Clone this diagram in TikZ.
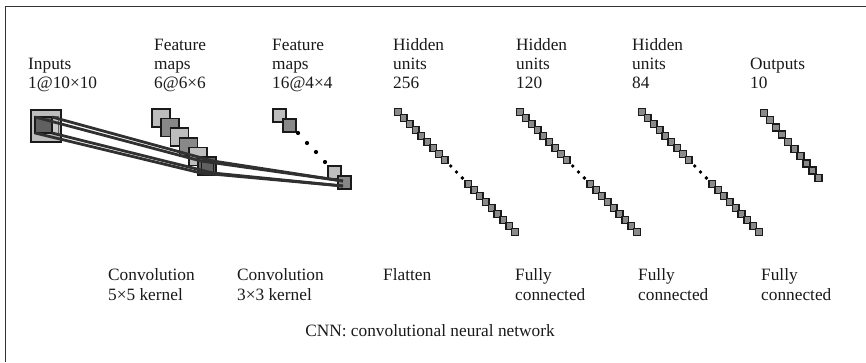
\documentclass[tikz,border=0pt]{standalone}
\usepackage{fontspec}
\setmainfont{Liberation Serif}
\definecolor{edge}{HTML}{1A1A1A}
\definecolor{lightsq}{HTML}{BDBDBD}
\definecolor{darksq}{HTML}{888888}
\definecolor{deepsq}{HTML}{606060}
\definecolor{band}{HTML}{303030}
\definecolor{hfill}{HTML}{8A8A8A}
\begin{document}
\begin{tikzpicture}[x=1pt,y=-1pt,
  lbl/.style={anchor=base west,inner sep=0pt,font=\fontsize{17.3}{20}\selectfont,text=black!90},
  sq/.style={draw=edge,line width=1.5pt,inner sep=0pt,outer sep=0pt},
  hsq/.style={draw=edge,line width=1.5pt,fill=hfill,minimum size=6.6pt,inner sep=0pt,outer sep=0pt},
  bandline/.style={draw=band,line width=2.8pt},
  dotmark/.style={fill=black}]
\useasboundingbox (0,0) rectangle (866,362);
\draw[line width=0.8pt,black!80] (5,362) -- (5,6) -- (866,6);

% top labels
\node[lbl] (t1b) at (28,69) {Inputs};
\node[lbl] (t1c) at (28,88) {1@10×10};
\node[lbl] (t2a) at (154,50) {Feature};
\node[lbl] (t2b) at (154,69) {maps};
\node[lbl] (t2c) at (154,88) {6@6×6};
\node[lbl] (t3a) at (272,50) {Feature};
\node[lbl] (t3b) at (272,69) {maps};
\node[lbl] (t3c) at (272,88) {16@4×4};
\node[lbl] (t4a) at (393,50) {Hidden};
\node[lbl] (t4b) at (393,69) {units};
\node[lbl] (t4c) at (393,88) {256};
\node[lbl] (t5a) at (516,50) {Hidden};
\node[lbl] (t5b) at (516,69) {units};
\node[lbl] (t5c) at (516,88) {120};
\node[lbl] (t6a) at (632,50) {Hidden};
\node[lbl] (t6b) at (632,69) {units};
\node[lbl] (t6c) at (632,88) {84};
\node[lbl] (t7b) at (750,69) {Outputs};
\node[lbl] (t7c) at (750,88) {10};

% bottom labels
\node[lbl] (b1a) at (108,280) {Convolution};
\node[lbl] (b1b) at (108,300) {5×5 kernel};
\node[lbl] (b2a) at (237,280) {Convolution};
\node[lbl] (b2b) at (237,300) {3×3 kernel};
\node[lbl] (b3a) at (383,280) {Flatten};
\node[lbl] (b4a) at (515,280) {Fully};
\node[lbl] (b4b) at (515,300) {connected};
\node[lbl] (b5a) at (638,280) {Fully};
\node[lbl] (b5b) at (638,300) {connected};
\node[lbl] (b6a) at (761,280) {Fully};
\node[lbl] (b6b) at (761,300) {connected};
\node[lbl,anchor=base] (cap) at (430,336) {CNN: convolutional neural network};

% input
\draw[sq,fill=lightsq] (31,110) rectangle (61,142);
\draw[draw=edge!70,line width=0.8pt,fill=lightsq!80] (40,116) rectangle (58,133);
\draw[sq,fill=deepsq] (35,117) rectangle (52,133);
\coordinate (iTL) at (35,117); \coordinate (iTR) at (52,117);
\coordinate (iBL) at (35,133); \coordinate (iBR) at (52,133);

% feature maps 6@6x6
\foreach \k/\c in {0/lightsq,1/darksq,2/lightsq,3/darksq,4/lightsq}{
  \draw[sq,fill=\c] (152+9.2*\k,109+9.6*\k) rectangle ++(18,18);
}
\draw[sq,fill=deepsq] (198,157) rectangle (216,175);
\draw[draw=edge,line width=1pt] (201,161) rectangle (213,173);
\coordinate (fTL) at (201,161); \coordinate (fTR) at (213,161);
\coordinate (fBL) at (201,173); \coordinate (fBR) at (213,173);

% feature maps 16@4x4
\draw[sq,fill=lightsq] (273,109) rectangle ++(13,13);
\draw[sq,fill=darksq] (283,119) rectangle ++(13,13);
\foreach \p in {(298,133),(307,143),(316,152),(325,162)} \fill[dotmark] \p circle (2.1pt);
\draw[sq,fill=lightsq] (328,166) rectangle ++(13,13);
\draw[sq,fill=darksq] (338,176) rectangle ++(13,13);
\coordinate (gT) at (343,181); \coordinate (gB) at (343,186);

% convolution bands
\draw[bandline] (iTL) -- (fTL);
\draw[bandline] (iTR) -- (fTR);
\draw[bandline] (iBL) -- (fBL);
\draw[bandline] (iBR) -- (fBR);
\draw[bandline] (fTL) -- (gT);
\draw[bandline] (fTR) -- (gT);
\draw[bandline] (fBL) -- (gB);
\draw[bandline] (fBR) -- (gB);

% hidden layers
\foreach \cx/\nm in {398/ha,520/hb,642/hc}{
  \foreach \i in {0,...,8} \node[hsq] (\nm\i) at (\cx+5.85*\i,112+6*\i) {};
  \foreach \i in {9,10,11} \fill[dotmark] (\cx+5.85*\i,112+6*\i) circle (1.9pt);
  \foreach \i in {12,...,20} \node[hsq] (\nm\i) at (\cx+5.85*\i,112+6*\i) {};
}
% outputs
\foreach \i in {0,...,9} \node[hsq,minimum size=7pt] (o\i) at (764+6.05*\i,113+7.2*\i) {};
\end{tikzpicture}
\end{document}
